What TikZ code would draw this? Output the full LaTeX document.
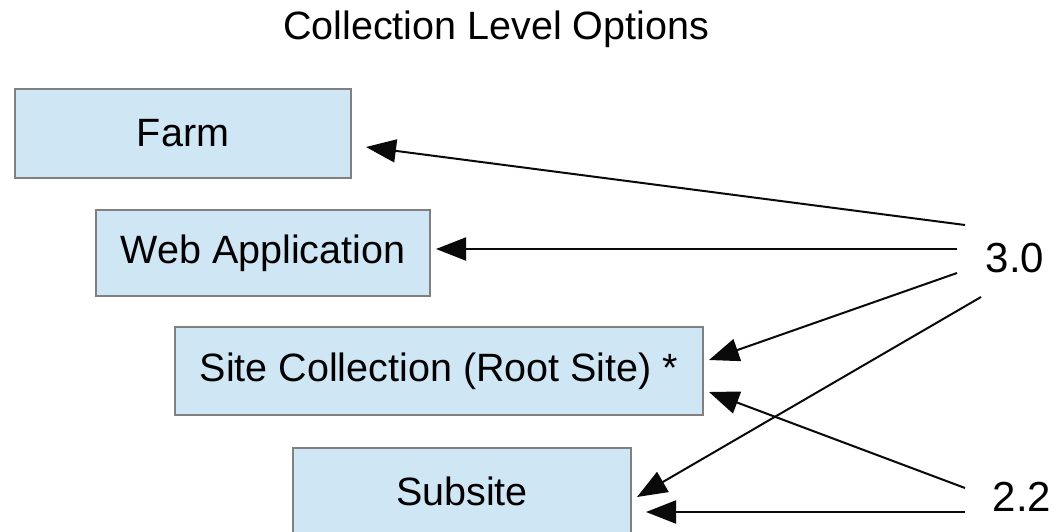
\documentclass[tikz,border=0pt]{standalone}
\usepackage{fontspec}
\setmainfont{Liberation Sans}
\usetikzlibrary{arrows.meta}
\definecolor{boxfill}{RGB}{207,230,244}
\definecolor{boxline}{RGB}{128,128,128}
\definecolor{arrowline}{RGB}{10,10,10}
\begin{document}
\begin{tikzpicture}[x=1pt,y=-1pt,
  levelbox/.style={draw=boxline,fill=boxfill,line width=2pt,inner sep=0pt,
    font=\fontsize{39.5}{46}\selectfont},
  lbl/.style={inner sep=0pt,font=\fontsize{42}{50}\selectfont},
  conn/.style={draw=arrowline,line width=2pt,-{Triangle[length=30pt,width=23pt]}}]
\useasboundingbox (0,0) rectangle (1057,532);
\node[inner sep=0pt,font=\fontsize{39.5}{46}\selectfont] (title) at (496,29) {Collection Level Options};
\node[levelbox,minimum width=336pt,minimum height=89pt] (farm) at (183,133.5) {Farm};
\node[levelbox,minimum width=334pt,minimum height=86pt] (web) at (263,253) {Web Application};
\node[levelbox,minimum width=528pt,minimum height=88pt] (site) at (439,371) {Site Collection (Root Site) *};
\node[levelbox,minimum width=338pt,minimum height=86pt] (sub) at (462,491) {Subsite};
\node[lbl] (v30) at (1015,258) {3.0};
\node[lbl] (v22) at (1022,497) {2.2};
% start points near labels
\coordinate (s1) at (965,225);
\coordinate (s2) at (957,249);
\coordinate (s3) at (957,273);
\coordinate (s4) at (981,297);
\coordinate (s5) at (965,488);
\coordinate (s6) at (965,512);
% tips near boxes
\coordinate (t1) at (366,147);
\coordinate (t2) at (436,249);
\coordinate (t3) at (709,360);
\coordinate (t4) at (637,497);
\coordinate (t5) at (709,392);
\coordinate (t6) at (646,512);
\draw[conn] (s1) -- (t1);
\draw[conn] (s2) -- (t2);
\draw[conn] (s3) -- (t3);
\draw[conn] (s4) -- (t4);
\draw[conn] (s5) -- (t5);
\draw[conn] (s6) -- (t6);
\end{tikzpicture}
\end{document}
